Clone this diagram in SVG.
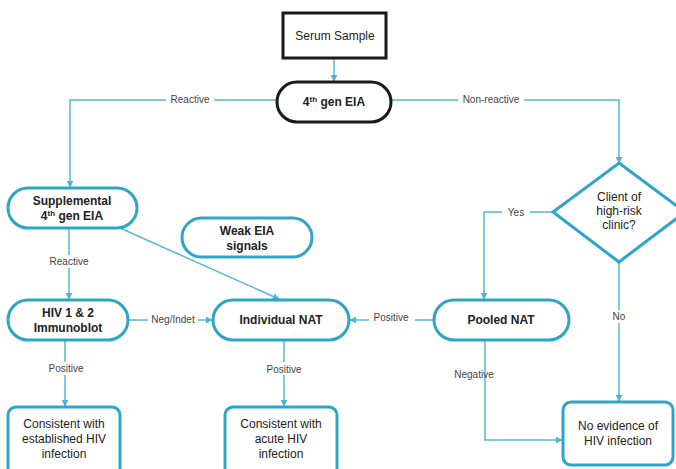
<svg xmlns="http://www.w3.org/2000/svg" width="676" height="469" viewBox="0 0 676 469">
<defs>
<marker id="arr" viewBox="0 0 10 10" refX="9" refY="5" markerWidth="7" markerHeight="7" markerUnits="userSpaceOnUse" orient="auto">
<path d="M0,0 L10,5 L0,10 z" fill="#4fb3d1"/>
</marker>
<style>
.node{fill:#fff;stroke:#2ea5c7;stroke-width:3}
.blk{fill:#fff;stroke:#1a1a1a;stroke-width:3}
.t{font-family:"Liberation Sans",Arial,sans-serif;font-size:12px;fill:#222;text-anchor:middle}
.b{font-weight:bold}
.c{fill:none;stroke:#56b8d4;stroke-width:1.5}
.lbl{font-family:"Liberation Sans",Arial,sans-serif;font-size:10px;fill:#444;text-anchor:middle}
.bg{fill:#fff}
</style>
</defs>
<rect width="676" height="469" fill="#fff"/>
<g id="connectors">
<line class="c" x1="334" y1="58" x2="334" y2="81" marker-end="url(#arr)"/>
<polyline class="c" points="277,100 70,100 70,187" marker-end="url(#arr)"/>
<polyline class="c" points="392,100 619,100 619,163" marker-end="url(#arr)"/>
<line class="c" x1="69" y1="228" x2="69" y2="299" marker-end="url(#arr)"/>
<line class="c" x1="120" y1="228" x2="279" y2="299" marker-end="url(#arr)"/>
<line class="c" x1="128" y1="320" x2="212" y2="320" marker-end="url(#arr)"/>
<line class="c" x1="65" y1="340" x2="65" y2="406" marker-end="url(#arr)"/>
<line class="c" x1="284" y1="340" x2="284" y2="406" marker-end="url(#arr)"/>
<line class="c" x1="434" y1="320" x2="350" y2="320" marker-end="url(#arr)"/>
<polyline class="c" points="553,212 484,212 484,299" marker-end="url(#arr)"/>
<line class="c" x1="619" y1="262" x2="619" y2="401" marker-end="url(#arr)"/>
<polyline class="c" points="485,340 485,440 562,440" marker-end="url(#arr)"/>
<rect class="bg" x="166" y="93" width="48" height="13"/>
<text class="lbl" x="190" y="103">Reactive</text>
<rect class="bg" x="458" y="93" width="66" height="13"/>
<text class="lbl" x="491" y="103">Non-reactive</text>
<rect class="bg" x="45" y="255" width="48" height="13"/>
<text class="lbl" x="69" y="265">Reactive</text>
<rect class="bg" x="148" y="314" width="50" height="13"/>
<text class="lbl" x="173" y="323">Neg/Indet</text>
<rect class="bg" x="43" y="362" width="46" height="13"/>
<text class="lbl" x="66" y="372">Positive</text>
<rect class="bg" x="261" y="362" width="46" height="13"/>
<text class="lbl" x="284" y="373">Positive</text>
<rect class="bg" x="369" y="311" width="46" height="13"/>
<text class="lbl" x="391" y="321">Positive</text>
<rect class="bg" x="502" y="206" width="28" height="13"/>
<text class="lbl" x="516" y="216">Yes</text>
<rect class="bg" x="607" y="310" width="24" height="13"/>
<text class="lbl" x="619" y="320">No</text>
<text class="lbl" x="474" y="378">Negative</text>
</g>
<g id="serum">
<rect class="blk" x="283" y="13" width="103" height="45"/>
<text class="t" x="335" y="40">Serum Sample</text>
</g>
<g id="eia4">
<rect class="blk" x="277" y="82" width="114" height="40" rx="20"/>
<text class="t b" x="334" y="106">4<tspan font-size="8" dy="-4">th</tspan><tspan dy="4"> gen EIA</tspan></text>
</g>
<g id="diamond">
<polygon class="node" points="619,163 685,212 619,262 553,212"/>
<text class="t" x="619" y="201">Client of</text>
<text class="t" x="619" y="215">high-risk</text>
<text class="t" x="619" y="229">clinic?</text>
</g>
<g id="supplemental">
<rect class="node" x="8" y="188" width="129" height="40" rx="20"/>
<text class="t b" x="72" y="205">Supplemental</text>
<text class="t b" x="72" y="220">4<tspan font-size="8" dy="-4">th</tspan><tspan dy="4"> gen EIA</tspan></text>
</g>
<g id="weak">
<rect class="node" x="182" y="218" width="130" height="39" rx="19.5"/>
<text class="t b" x="247" y="235">Weak EIA</text>
<text class="t b" x="247" y="250">signals</text>
</g>
<g id="immunoblot">
<rect class="node" x="8" y="300" width="120" height="40" rx="20"/>
<text class="t b" x="68" y="317">HIV 1 &amp; 2</text>
<text class="t b" x="68" y="332">Immunoblot</text>
</g>
<g id="indnat">
<rect class="node" x="213" y="300" width="136" height="40" rx="20"/>
<text class="t b" x="281" y="324">Individual NAT</text>
</g>
<g id="poolnat">
<rect class="node" x="434" y="300" width="135" height="40" rx="20"/>
<text class="t b" x="501" y="324">Pooled NAT</text>
</g>
<g id="established">
<rect class="node" x="8" y="407" width="112" height="70" rx="8"/>
<text class="t" x="64" y="428">Consistent with</text>
<text class="t" x="64" y="443">established HIV</text>
<text class="t" x="64" y="458">infection</text>
</g>
<g id="acute">
<rect class="node" x="225" y="407" width="112" height="70" rx="8"/>
<text class="t" x="281" y="428">Consistent with</text>
<text class="t" x="281" y="443">acute HIV</text>
<text class="t" x="281" y="458">infection</text>
</g>
<g id="noevidence">
<rect class="node" x="563" y="402" width="110" height="63" rx="8"/>
<text class="t" x="618" y="430">No evidence of</text>
<text class="t" x="618" y="445">HIV infection</text>
</g>
</svg>
